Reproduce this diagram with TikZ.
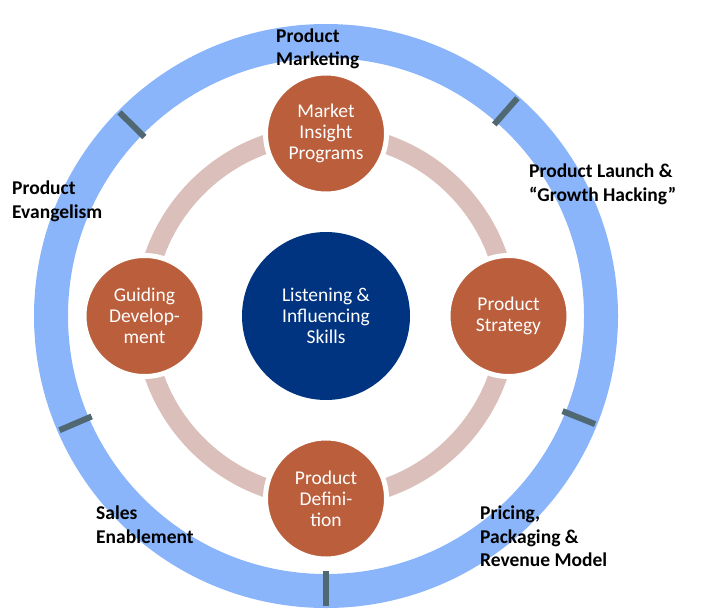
\documentclass[tikz,border=0pt]{standalone}
\usepackage{fontspec}
\setmainfont{Carlito}
\usetikzlibrary{calc}
\definecolor{ringblue}{RGB}{138,181,250}
\definecolor{tickgray}{RGB}{79,104,113}
\definecolor{rose}{RGB}{219,191,186}
\definecolor{rust}{RGB}{187,94,60}
\definecolor{navy}{RGB}{0,52,128}
\begin{document}
\begin{tikzpicture}[x=1pt,y=-1pt,
  petal/.style={circle, fill=rust, draw=white, line width=5pt, minimum size=121pt, inner sep=0pt, text=white, align=center, font=\fontsize{19.5}{20.8}\selectfont},
  hub/.style={circle, fill=navy, minimum size=168pt, inner sep=0pt, text=white, align=center, font=\fontsize{19.5}{21}\selectfont},
  lbl/.style={anchor=north west, inner sep=0pt, align=left, font=\bfseries\fontsize{19.5}{23.3}\selectfont},
  tickmark/.style={draw=tickgray, line width=6pt},
]
\useasboundingbox (0,0) rectangle (708,612);
\coordinate (c) at (326,316);
% outer ring
\draw[ringblue, line width=34pt] (c) circle[radius=275];
% tick marks on outer ring
\draw[tickmark] ($(c)+(-48.7:255)$) -- ($(c)+(-48.7:290)$);
\draw[tickmark] ($(c)+(21.9:255)$) -- ($(c)+(21.9:290)$);
\draw[tickmark] ($(c)+(90:255)$) -- ($(c)+(90:290)$);
\draw[tickmark] ($(c)+(156.8:255)$) -- ($(c)+(156.8:290)$);
\draw[tickmark] ($(c)+(-135.4:255)$) -- ($(c)+(-135.4:290)$);
% inner ring
\draw[rose, line width=19pt] (c) circle[radius=182];
% circles
\node[petal] (mip) at (326,133.5) {Market\\Insight\\Programs};
\node[petal] (ps) at (508.5,316) {Product\\Strategy};
\node[petal] (pd) at (326,498.5) {Product\\Defini-\\tion};
\node[petal] (gd) at (144.5,316) {Guiding\\Develop-\\ment};
\node[hub] (lis) at (326,316) {Listening \&\\Influencing\\Skills};
% labels
\node[lbl] (pm) at (276,28.5) {Product\\Marketing};
\node[lbl] (pl) at (529,164) {Product Launch \&\\“Growth Hacking”};
\node[lbl] (pe) at (12,181) {Product\\Evangelism};
\node[lbl] (se) at (96,506) {Sales\\Enablement};
\node[lbl] (pp) at (480,506) {Pricing,\\Packaging \&\\Revenue Model};
\end{tikzpicture}
\end{document}
